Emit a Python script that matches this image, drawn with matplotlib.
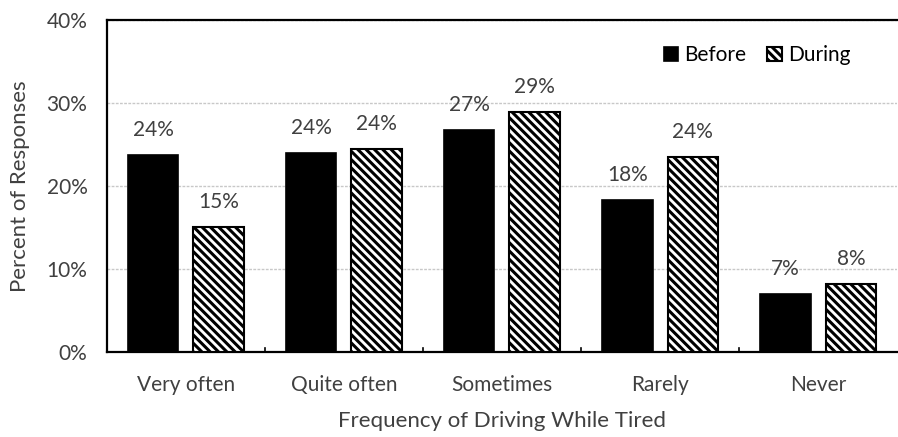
import numpy as np
import matplotlib
matplotlib.use('Agg')
import matplotlib.pyplot as plt

categories = ['Very often', 'Quite often', 'Sometimes', 'Rarely', 'Never']
before = [23.7, 24.0, 26.7, 18.3, 7.0]
during = [15.0, 24.5, 28.9, 23.5, 8.2]
yticks = [0, 10, 20, 30, 40]

plt.rcParams['font.family'] = ['Lato', 'DejaVu Sans']
plt.rcParams['hatch.linewidth'] = 2.2
txt = '#404040'
fs = 15

fig = plt.figure(figsize=(8.98, 4.37), dpi=100)
ax = fig.add_axes([0.119, 0.195, 0.88, 0.759])

x = np.arange(len(categories))
w = 0.32
gap = 0.095
b1 = ax.bar(x - (w + gap) / 2, before, w, color='black', edgecolor='black', linewidth=1.2, label='Before', zorder=3)
b2 = ax.bar(x + (w + gap) / 2, during, w, color='white', edgecolor='black', hatch='\\\\\\\\', linewidth=1.5, label='During', zorder=3)

for bars, vals in [(b1, before), (b2, during)]:
    for r, v in zip(bars, vals):
        ax.text(r.get_x() + r.get_width() / 2, v + 1.8, '%d%%' % round(v),
                ha='center', va='bottom', fontsize=fs, color=txt)

ax.set_xlim(-0.5, len(categories) - 0.5)
ax.set_ylim(0, 40)
ax.set_yticks(yticks)
ax.set_yticklabels(['%d%%' % t for t in yticks], fontsize=fs, color=txt)
ax.set_xticks(x)
ax.set_xticklabels(categories, fontsize=fs, color=txt)
ax.tick_params(axis='x', length=0, pad=17)
ax.tick_params(axis='y', length=0, pad=14)
for b in np.arange(0.5, len(categories) - 1, 1.0):
    ax.plot([b, b], [0, 0.5], color='black', lw=1.2, zorder=4)

ax.yaxis.grid(True, color='#c8c8c8', linestyle=(0, (2, 1)), linewidth=1.0, zorder=0)
ax.set_axisbelow(True)

for s in ['top', 'left', 'bottom']:
    ax.spines[s].set_linewidth(1.6)
ax.spines['right'].set_visible(False)

ax.set_xlabel('Frequency of Driving While Tired', fontsize=fs + 1, color=txt, labelpad=11)
ax.set_ylabel('Percent of Responses', fontsize=fs + 1, color=txt, labelpad=12)

leg = ax.legend(loc='upper right', bbox_to_anchor=(0.965, 0.98), ncol=2, frameon=False,
                fontsize=fs, handlelength=0.7, handleheight=0.7, handletextpad=0.3,
                columnspacing=1.0)
for t in leg.get_texts():
    t.set_color('black')

fig.savefig('out.png', dpi=100)
